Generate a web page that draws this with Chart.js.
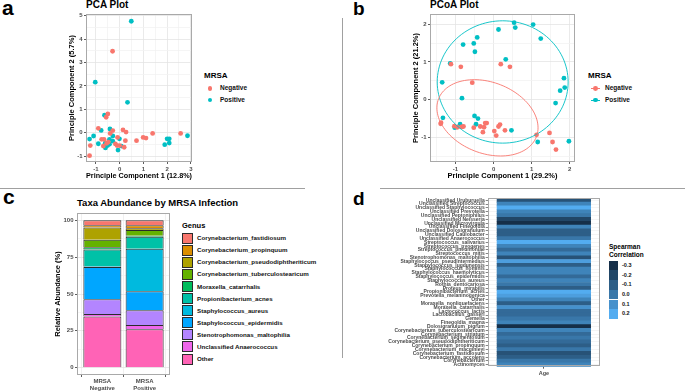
<!DOCTYPE html>
<html>
<head>
<meta charset="utf-8">
<script src="https://cdn.jsdelivr.net/npm/chart.js@4.4.0/dist/chart.umd.min.js"></script>
<style>
  body { margin: 0; background: #fff; }
  #fig { position: relative; width: 685px; height: 391px; overflow: hidden;
         font-family: "Liberation Sans", Arial, sans-serif; color: #000; }
  #fig canvas { position: absolute; }
  .t { position: absolute; white-space: nowrap; line-height: 1; font-weight: bold; color: #000; }
  .rule { position: absolute; background: #a0a0a0; }
  .sw { position: absolute; box-sizing: border-box; }
</style>
</head>
<body>
<div id="fig"></div>
<script>
// ---------- data ----------
// a: PCA
const pcaNegX = [-0.3, -0.5, -0.57, -0.9, -0.76, -0.66, -1.24, -1.27, -0.4, -0.29, 0.14, 0.27, -0.09, -0.18, -0.11, 0.0, 0.19, 0.24, 0.71, 0.99, 1.11, 1.39, 2.57, -0.69, -0.55, -0.48];
const pcaNegY = [3.48, 0.8, 0.66, 0.19, -0.28, -0.28, -0.55, -0.98, -0.03, 0.09, 0.12, 0.03, -0.2, -0.48, -0.55, -0.55, -0.62, -0.34, -0.34, -0.2, -0.23, -0.03, -0.03, -0.57, -0.45, -0.4];
const pcaPosX = [0.49, -1.03, 0.33, -0.64, -0.41, -0.78, -1.27, -1.1, -0.9, -0.29, -0.43, -0.29, -0.61, -0.6, -0.51, -0.43, -0.01, 0.07, -0.07, 1.9, 2.0, 2.09, 2.09, 2.86];
const pcaPosY = [4.76, 2.16, 1.3, 0.75, 0.16, 0.1, -0.27, -0.14, -0.47, -0.14, -0.28, -0.36, -0.45, -0.65, -0.55, -0.49, -0.26, -0.57, -0.74, -0.51, -0.26, -0.26, -0.44, -0.13];

// b: PCoA
const pcoaNegX = [-1.12, -0.86, 0.19, 0.43, -0.56, -1.39, -1.38, -1.03, -0.95, -0.84, -0.79, -0.52, -0.35, -0.25, -0.28, -0.18, -0.22, 0.13, 0.17, 0.02, 0.07, 0.3, 1.13, 1.47, 1.55, 1.64];
const pcoaNegY = [0.94, 0.87, 0.94, 0.87, 0.45, -0.64, -0.61, -0.7, -0.73, -0.72, -0.71, -0.74, -0.71, -0.73, -0.86, -0.62, -0.62, -0.71, -0.66, -0.83, -0.95, -0.81, -0.93, -0.88, -1.12, -1.32];
const pcoaPosX = [0.54, 1.04, 0.57, 0.13, 1.24, -0.43, -0.52, -0.8, -0.49, 0.32, -1.14, -1.35, -0.83, 1.85, 1.87, 1.75, 1.63, -1.33, -0.5, -0.41, -0.46, -0.88, -1.02, 0.47, 1.16, 1.98];
const pcoaPosY = [2.04, 1.99, 1.91, 1.86, 1.62, 1.65, 1.49, 1.46, 1.27, 1.07, 0.96, 0.46, 0.04, 0.57, 0.32, 0.24, -0.09, -0.48, -0.43, -0.5, -0.65, -0.65, -0.74, -0.81, -1.12, -1.1];
// ellipses (centre, semi-axes, rotation in degrees)
const ellipseNeg = { cx: -0.16, cy: -0.48, rx: 1.38, ry: 0.94, angle: -21.6 };
const ellipsePos = { cx: 0.24, cy: 0.47, rx: 1.72, ry: 1.62, angle: 0 };

// c: taxa abundance (bottom of stack first)
const taxaGroups = [['MRSA', 'Negative'], ['MRSA', 'Positive']];
const genusNames = ['Other', 'Unclassified Anaerococcus', 'Stenotrophomonas_maltophilia',
  'Staphylococcus_epidermidis', 'Staphylococcus_aureus', 'Propionibacterium_acnes',
  'Moraxella_catarrhalis', 'Corynebacterium_tuberculostearicum',
  'Corynebacterium_pseudodiphtheriticum', 'Corynebacterium_propinquum', 'Corynebacterium_fastidiosum'];
const genusColors = ['#FF63B6', '#EF67EB', '#B385FF', '#00A6FF', '#00BADE', '#00C1A7',
  '#00BD5C', '#64B200', '#AEA200', '#DB8E00', '#F8766D'];
const abundanceNeg = [34.7, 1.7, 10.0, 21.9, 0.6, 11.3, 1.5, 5.2, 8.2, 1.5, 3.4];
const abundancePos = [26.0, 3.0, 10.0, 12.8, 29.0, 8.1, 0.7, 3.8, 1.2, 2.0, 3.4];

// d: Spearman correlation with age (top row first)
const heatTaxa = ['Unclassified Uruburuella', 'Unclassified Streptococcus', 'Unclassified Staphylococcus',
  'Unclassified Prevotella', 'Unclassified Peptoniphilus', 'Unclassified Neisseria',
  'Unclassified Microvirgula', 'Unclassified Finegoldia', 'Unclassified Dolosigranulum',
  'Unclassified Caulobacter', 'Unclassified Anaerococcus', 'Streptococcus_salivarius',
  'Streptococcus_pyogenes', 'Streptococcus_pneumoniae', 'Streptococcus_mitis',
  'Stenotrophomonas_maltophilia', 'Staphylococcus_pseudintermedius', 'Staphylococcus_lugdunensis',
  'Staphylococcus_hominis', 'Staphylococcus_haemolyticus', 'Staphylococcus_epidermidis',
  'Staphylococcus_aureus', 'Rothia_dentocariosa', 'Proteus_mirabilis', 'Propionibacterium_acnes',
  'Prevotella_melaninogenica', 'Other', 'Moraxella_nonliquefaciens', 'Moraxella_catarrhalis',
  'Lactococcus_lactis', 'Lactobacillus_gasseri', 'Gemella', 'Finegoldia_magna',
  'Dolosigranulum_pigrum', 'Corynebacterium_tuberculostearicum', 'Corynebacterium_striatum',
  'Corynebacterium_segmentosum', 'Corynebacterium_pseudodiphtheriticum', 'Corynebacterium_propinquum',
  'Corynebacterium_macginleyi', 'Corynebacterium_fastidiosum', 'Corynebacterium_accolens',
  'Corynebacterium', 'Actinomyces'];
const heatRho = [-0.15, 0.05, 0.2, 0.05, 0.0, -0.2, -0.3, 0.05, -0.1, -0.1,
  0.0, 0.2, 0.05, -0.05, 0.05, -0.15, 0.15, -0.1, 0.05, 0.05,
  -0.05, 0.05, 0.0, -0.1, 0.2, 0.15, 0.05, -0.1, 0.1, -0.05,
  -0.05, 0.0, 0.05, -0.3, 0.05, -0.05, 0.0, -0.05, -0.1, 0.0,
  -0.15, -0.1, 0.0, 0.05];
const rhoBreaks = [-0.3, -0.2, -0.1, 0.0, 0.1, 0.2];

// ---------- helpers ----------
const fig = document.getElementById('fig');
const FONT = '"Liberation Sans", Arial, sans-serif';
const RED = '#F8766D', CYAN = '#00BFC4';

function text(str, x, baseline, size, color) {
  const d = document.createElement('div');
  d.className = 't';
  d.textContent = str;
  d.style.left = x + 'px';
  d.style.top = (baseline - 0.8465 * size) + 'px';
  d.style.fontSize = size + 'px';
  d.style.color = color || '#000';
  fig.appendChild(d);
  return d;
}
function box(x, y, w, h, cls, style) {
  const d = document.createElement('div');
  d.className = cls;
  Object.assign(d.style, { left: x + 'px', top: y + 'px', width: w + 'px', height: h + 'px' }, style || {});
  fig.appendChild(d);
  return d;
}
function makeCanvas(x, y, w, h) {
  const c = document.createElement('canvas');
  c.width = w; c.height = h;
  c.style.left = x + 'px'; c.style.top = y + 'px';
  c.style.width = w + 'px'; c.style.height = h + 'px';
  fig.appendChild(c);
  return c.getContext('2d');
}
function pts(xs, ys) { return xs.map((x, i) => ({ x: x, y: ys[i] })); }
const isInt = v => Math.abs(v - Math.round(v)) < 1e-6;

// ggplot default continuous fill, #132B43 -> #56B1F7 interpolated in Lab
function toLab(hex) {
  const c = [1, 3, 5].map(i => parseInt(hex.substr(i, 2), 16) / 255)
    .map(v => v <= 0.04045 ? v / 12.92 : Math.pow((v + 0.055) / 1.055, 2.4));
  const X = (0.4124 * c[0] + 0.3576 * c[1] + 0.1805 * c[2]) / 0.95047;
  const Y = (0.2126 * c[0] + 0.7152 * c[1] + 0.0722 * c[2]);
  const Z = (0.0193 * c[0] + 0.1192 * c[1] + 0.9505 * c[2]) / 1.08883;
  const f = t => t > 0.008856 ? Math.cbrt(t) : 7.787 * t + 16 / 116;
  return [116 * f(Y) - 16, 500 * (f(X) - f(Y)), 200 * (f(Y) - f(Z))];
}
function fromLab(L, a, b) {
  const fy = (L + 16) / 116, fx = fy + a / 500, fz = fy - b / 200;
  const g = t => t * t * t > 0.008856 ? t * t * t : (t - 16 / 116) / 7.787;
  const X = g(fx) * 0.95047, Y = g(fy), Z = g(fz) * 1.08883;
  const lin = [3.2406 * X - 1.5372 * Y - 0.4986 * Z,
               -0.9689 * X + 1.8758 * Y + 0.0415 * Z,
               0.0557 * X - 0.2040 * Y + 1.0570 * Z];
  return 'rgb(' + lin.map(v => {
    v = v <= 0.0031308 ? 12.92 * v : 1.055 * Math.pow(v, 1 / 2.4) - 0.055;
    return Math.round(Math.max(0, Math.min(1, v)) * 255);
  }).join(',') + ')';
}
const LAB_LO = toLab('#132B43'), LAB_HI = toLab('#56B1F7');
function rhoColor(v) {
  let t = (v - (-0.32)) / (0.22 - (-0.32));
  t = Math.max(0, Math.min(1, t));
  return fromLab(...LAB_LO.map((l, i) => l + (LAB_HI[i] - l) * t));
}

const panelBox = {
  id: 'panelBox',
  afterDraw(chart) {
    const { ctx, chartArea: a } = chart;
    ctx.save();
    ctx.strokeStyle = '#a9a9a9';
    ctx.lineWidth = 1;
    ctx.strokeRect(Math.round(a.left) + 0.5, Math.round(a.top) + 0.5,
      Math.round(a.right - a.left) - 1, Math.round(a.bottom - a.top) - 1);
    ctx.restore();
  }
};

const ellipses = {
  id: 'ellipses',
  afterDatasetsDraw(chart, args, opts) {
    const { ctx, scales: { x, y }, chartArea: a } = chart;
    ctx.save();
    ctx.beginPath();
    ctx.rect(a.left, a.top, a.right - a.left, a.bottom - a.top);
    ctx.clip();
    opts.items.forEach(e => {
      const r = e.angle * Math.PI / 180;
      ctx.beginPath();
      for (let d = 0; d <= 360; d += 3) {
        const t = d * Math.PI / 180;
        const ux = e.rx * Math.cos(t), uy = e.ry * Math.sin(t);
        const px = x.getPixelForValue(e.cx + ux * Math.cos(r) - uy * Math.sin(r));
        const py = y.getPixelForValue(e.cy + ux * Math.sin(r) + uy * Math.cos(r));
        if (d === 0) ctx.moveTo(px, py); else ctx.lineTo(px, py);
      }
      ctx.closePath();
      ctx.strokeStyle = e.color;
      ctx.lineWidth = 0.9;
      ctx.stroke();
    });
    ctx.restore();
  }
};

const tickFont = { family: FONT, size: 6, weight: 'bold' };
const titleFont = { family: FONT, size: 7.5, weight: 'bold' };

function pcaAxis(min, max, title, isX, fixed) {
  return {
    type: 'linear', min: min, max: max,
    border: { display: false },
    grid: {
      color: c => (c.tick && isInt(c.tick.value)) ? '#e4e4e4' : '#f2f2f2',
      tickColor: c => (c.tick && isInt(c.tick.value)) ? '#333333' : 'rgba(0,0,0,0)',
      tickLength: 2, lineWidth: 0.8
    },
    ticks: {
      stepSize: 0.5, includeBounds: false, autoSkip: false, maxRotation: 0, minRotation: 0,
      padding: 1.5, color: '#4d4d4d', font: tickFont,
      callback: v => isInt(v) ? String(Math.round(v)) : ''
    },
    title: {
      display: true, text: title, color: '#000', font: titleFont,
      padding: isX ? { top: 0, bottom: 4.5 } : { top: 5.5, bottom: 0 }
    },
    afterFit: s => { if (isX) s.height = fixed; else s.width = fixed; }
  };
}

function scatterChart(ctx, neg, pos, xr, yr, xt, yt, extraPlugins, extraOpts) {
  return new Chart(ctx, {
    type: 'scatter',
    data: {
      datasets: [
        { label: 'Negative', data: neg, backgroundColor: RED, borderWidth: 0, pointRadius: 2.4 },
        { label: 'Positive', data: pos, backgroundColor: CYAN, borderWidth: 0, pointRadius: 2.4 }
      ]
    },
    options: {
      responsive: false, animation: false,
      layout: { padding: { top: 14, right: 3, left: 0, bottom: 0 } },
      plugins: Object.assign({ legend: { display: false }, tooltip: { enabled: false } }, extraOpts || {}),
      scales: {
        x: pcaAxis(xr[0], xr[1], xt, true, 23),
        y: pcaAxis(yr[0], yr[1], yt, false, 24)
      }
    },
    plugins: [panelBox].concat(extraPlugins || [])
  });
}

// ---------- page furniture ----------
box(341.5, 18, 1.5, 340, 'rule');
box(0, 187.5, 305, 1.5, 'rule');
box(380, 187.5, 305, 1.5, 'rule');

text('a', 2, 15, 21);
text('b', 353, 15, 19);
text('c', 3, 203.5, 21);
text('d', 353, 205, 19);

// ---------- a: PCA ----------
text('PCA Plot', 86, 8.8, 10);
scatterChart(makeCanvas(62, 0, 134, 185), pts(pcaNegX, pcaNegY), pts(pcaPosX, pcaPosY),
  [-1.42, 3.05], [-1.25, 5.07], 'Principle Component 1 (12.8%)', 'Principle Component 2 (5.7%)');

text('MRSA', 204, 78.3, 8);
[['Negative', RED, 88.3], ['Positive', CYAN, 100]].forEach(([lab, col, y]) => {
  box(207.6, y - 2.4, 4.8, 4.8, 'sw', { background: col, borderRadius: '50%' });
  text(lab, 220, y + 2.3, 6.5, '#111');
});

// ---------- b: PCoA ----------
text('PCoA Plot', 430, 8.8, 10);
scatterChart(makeCanvas(406, 0, 173, 185), pts(pcoaNegX, pcoaNegY), pts(pcoaPosX, pcoaPosY),
  [-1.67, 2.14], [-1.65, 2.27], 'Principle Component 1 (29.2%)', 'Principle Component 2 (21.2%)',
  [ellipses],
  { ellipses: { items: [Object.assign({ color: CYAN }, ellipsePos), Object.assign({ color: RED }, ellipseNeg)] } });

text('MRSA', 588, 78.3, 8);
[['Negative', RED, 88.3], ['Positive', CYAN, 100]].forEach(([lab, col, y]) => {
  box(591, y - 0.45, 9, 0.9, 'sw', { background: col });
  box(593.1, y - 2.4, 4.8, 4.8, 'sw', { background: col, borderRadius: '50%' });
  text(lab, 605, y + 2.3, 6.5, '#111');
});

// ---------- c: stacked abundance ----------
text('Taxa Abundance by MRSA Infection', 77, 206, 9.5);
new Chart(makeCanvas(48, 190, 125, 201), {
  type: 'bar',
  data: {
    datasets: genusNames.map((g, i) => ({
      label: g,
      data: [{ x: 1, y: abundanceNeg[i] }, { x: 2, y: abundancePos[i] }],
      backgroundColor: genusColors[i],
      borderColor: '#2b2b2b', borderWidth: 1,
      categoryPercentage: 1, barPercentage: 0.9
    }))
  },
  options: {
    responsive: false, animation: false,
    layout: { padding: { top: 23, right: 3, left: 0, bottom: 0 } },
    plugins: { legend: { display: false }, tooltip: { enabled: false } },
    scales: {
      x: {
        type: 'linear', min: 0.4, max: 2.6, stacked: true, offset: false,
        border: { display: false },
        grid: { color: '#ececec', lineWidth: 0.8, tickColor: '#333', tickLength: 2 },
        ticks: {
          stepSize: 1, includeBounds: false, autoSkip: false, maxRotation: 0, minRotation: 0,
          padding: 1, color: '#4d4d4d', font: { family: FONT, size: 6, weight: 'bold' },
          callback: v => (isInt(v) && taxaGroups[Math.round(v) - 1]) ? taxaGroups[Math.round(v) - 1] : ''
        },
        afterFit: s => { s.height = 16; }
      },
      y: {
        min: -5, max: 105, stacked: true,
        border: { display: false },
        grid: {
          color: c => (c.tick && c.tick.value % 25 === 0) ? '#e4e4e4' : '#f2f2f2',
          tickColor: c => (c.tick && c.tick.value % 25 === 0) ? '#333' : 'rgba(0,0,0,0)',
          tickLength: 2, lineWidth: 0.8
        },
        ticks: {
          stepSize: 12.5, includeBounds: false, autoSkip: false, padding: 1.5,
          color: '#4d4d4d', font: tickFont,
          callback: v => (v >= 0 && v % 25 === 0) ? String(v) : ''
        },
        title: { display: true, text: 'Relative Abundance (%)', color: '#000', font: titleFont, padding: { top: 5, bottom: 0 } },
        afterFit: s => { s.width = 29; }
      }
    }
  },
  plugins: [panelBox]
});

text('Genus', 182, 228.5, 7.5);
genusNames.slice().reverse().forEach((g, i) => {
  const cy = 238.3 + 12.07 * i;
  const col = genusColors[genusColors.length - 1 - i];
  box(182, cy - 5.5, 11, 11, 'sw', { background: col, border: '1px solid #2b2b2b' });
  text(g, 197, cy + 2.2, 6.2, '#111');
});

// ---------- d: heatmap ----------
new Chart(makeCanvas(380, 190, 221, 190), {
  type: 'bar',
  data: {
    labels: heatTaxa,
    datasets: [{
      data: heatTaxa.map(() => [0.5, 1.5]),
      backgroundColor: heatRho.map(rhoColor),
      borderWidth: 0, categoryPercentage: 1, barPercentage: 1
    }]
  },
  options: {
    indexAxis: 'y',
    responsive: false, animation: false,
    layout: { padding: { top: 8.3, right: 1, left: 0, bottom: 0 } },
    plugins: { legend: { display: false }, tooltip: { enabled: false } },
    scales: {
      x: {
        type: 'linear', min: 0.4, max: 1.6,
        border: { display: false },
        grid: { color: '#ececec', lineWidth: 0.8, tickColor: '#333', tickLength: 2 },
        ticks: {
          stepSize: 1, includeBounds: false, maxRotation: 0, padding: 1,
          color: '#4d4d4d', font: { family: FONT, size: 5.5, weight: 'bold' },
          callback: v => isInt(v) ? 'Age' : ''
        },
        afterFit: s => { s.height = 13.3; }
      },
      y: {
        border: { display: false },
        grid: { color: '#ececec', lineWidth: 0.6, offset: false, tickColor: '#333', tickLength: 2 },
        ticks: { autoSkip: false, padding: 1, color: '#4d4d4d', font: { family: FONT, size: 5, weight: 'bold' } },
        afterFit: s => { s.width = 107.7; }
      }
    }
  },
  plugins: [panelBox]
});

text('Spearman', 609, 250, 6.5);
text('Correlation', 609, 257.5, 6.5);
rhoBreaks.forEach((v, i) => {
  const y = 260.7 + 9.7 * i;
  box(609, y, 9, 9.7, 'sw', { background: rhoColor(v) });
  text(v.toFixed(1), 622, y + 6.8, 5.5, '#111');
});
</script>
</body>
</html>
